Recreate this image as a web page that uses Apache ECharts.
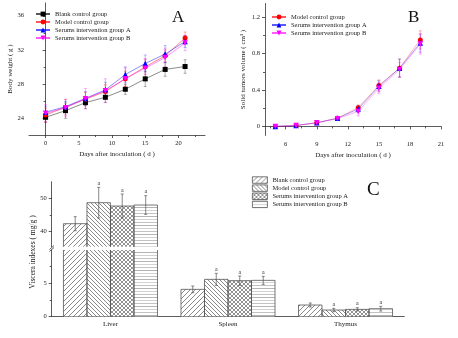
<!DOCTYPE html>
<html>
<head>
<meta charset="utf-8">
<script src="https://cdn.jsdelivr.net/npm/echarts@6/dist/echarts.min.js"></script>
<style>
html,body{margin:0;padding:0;background:#fff;}
#chart{width:458px;height:338px;}
</style>
</head>
<body>
<div id="chart"></div>
<script>
// ---------- data ----------
const groupNames = ['Blank control group', 'Model control group', 'Serums intervention group A', 'Serums intervention group B'];

// A: body weight (g) vs days after inoculation
const daysA = [0, 3, 6, 9, 12, 15, 18, 21];
const weightBlank = [24.08, 24.86, 25.8, 26.43, 27.37, 28.59, 29.7, 30.04];
const weightModel = [24.35, 25.26, 26.2, 27.1, 28.6, 30.0, 31.3, 33.4];
const weightGroupA = [24.67, 25.33, 26.3, 27.3, 29.1, 30.4, 31.5, 32.98];
const weightGroupB = [24.55, 25.2, 26.27, 27.2, 28.6, 29.85, 31.1, 32.8];
const weightBlankSd = [0.6, 0.9, 0.7, 0.6, 0.6, 0.9, 0.8, 0.8];
const weightModelSd = [0.8, 0.9, 0.8, 0.8, 0.9, 0.9, 0.7, 0.7];
const weightGroupASd = [0.7, 0.6, 0.8, 0.9, 0.9, 1.0, 1.0, 0.7];
const weightGroupBSd = [1.0, 1.0, 1.2, 1.4, 1.3, 1.1, 1.1, 0.9];

// B: solid tumour volume (cm3)
const daysB = [5, 7, 9, 11, 13, 15, 17, 19];
const volumeModel = [0.0, 0.01, 0.04, 0.09, 0.205, 0.45, 0.64, 0.95];
const volumeGroupA = [0.0, 0.01, 0.04, 0.09, 0.19, 0.44, 0.64, 0.915];
const volumeGroupB = [0.0, 0.01, 0.04, 0.085, 0.165, 0.42, 0.625, 0.905];
const volumeModelSd = [0.01, 0.01, 0.01, 0.02, 0.03, 0.06, 0.1, 0.1];
const volumeGroupASd = [0.01, 0.01, 0.01, 0.02, 0.04, 0.06, 0.1, 0.1];
const volumeGroupBSd = [0.01, 0.01, 0.01, 0.02, 0.05, 0.06, 0.08, 0.11];

// C: viscera indexes (mg/g)
const organs = ['Liver', 'Spleen', 'Thymus'];
const visceraBlank = [42.4, 4.1, 1.75];
const visceraModel = [48.7, 5.6, 1.0];
const visceraGroupA = [47.7, 5.4, 1.1];
const visceraGroupB = [48.0, 5.45, 1.2];
const visceraBlankSd = [2.1, 0.5, 0.3];
const visceraModelSd = [4.6, 0.9, 0.25];
const visceraGroupASd = [3.6, 0.7, 0.25];
const visceraGroupBSd = [2.8, 0.6, 0.35];
const visceraMarks = [['', '', ''], ['a', 'a', 'a'], ['a', 'a', 'a'], ['a', 'a', 'a']];

// tick values
const ticksAx = [0, 5, 10, 15, 20];
const minorAx = [2.5, 7.5, 12.5, 17.5, 22.5];
const ticksAy = [24, 28, 32, 36];
const minorAy = [26, 30, 34];
const ticksBx = [6, 9, 12, 15, 18, 21];
const minorBx = [4.5, 7.5, 10.5, 13.5, 16.5, 19.5];
const ticksBy = [0, 0.4, 0.8, 1.2];
const minorBy = [0.2, 0.6, 1.0];
const ticksCupper = [40, 50];
const minorCupper = [45];
const ticksClower = [0, 5];
const minorClower = [2.5, 7.5];

// ---------- styling helpers ----------
const FONT = 'Liberation Serif';
const lineColors = ['#000000', '#ff0000', '#0000ff', '#ff00ff'];
const errColors = ['rgba(0,0,0,0.45)', 'rgba(255,0,0,0.45)', 'rgba(0,0,255,0.4)', 'rgba(255,0,255,0.45)'];
const symbols = ['rect', 'circle', 'triangle', 'path://M0,0 L10,0 L5,9 Z'];
const symbolSizes = [5, 5, 5.5, 5.5];
const BAR_FRACTION = 0.2;   // bar width as a share of the category band

function tile(w, h, draw) {
  const c = document.createElement('canvas');
  c.width = w; c.height = h;
  const g = c.getContext('2d');
  g.fillStyle = '#ffffff';
  g.fillRect(0, 0, w, h);
  draw(g, w, h);
  return c;
}
function seg(g, x1, y1, x2, y2) { g.beginPath(); g.moveTo(x1, y1); g.lineTo(x2, y2); g.stroke(); }

const hatchSlash = tile(5, 5, g => {
  g.strokeStyle = '#8a8a8a'; g.lineWidth = 1;
  seg(g, 0, 5, 5, 0); seg(g, -1, 1, 1, -1); seg(g, 4, 6, 6, 4);
});
const hatchBack = tile(4, 4, g => {
  g.strokeStyle = '#7a7a7a'; g.lineWidth = 0.9;
  seg(g, 0, 0, 4, 4); seg(g, -1, 3, 1, 5); seg(g, 3, -1, 5, 1);
});
const hatchCross = tile(4, 4, g => {
  g.strokeStyle = '#777777'; g.lineWidth = 0.8;
  seg(g, 0, 0, 4, 4); seg(g, -1, 3, 1, 5); seg(g, 3, -1, 5, 1);
  seg(g, 0, 4, 4, 0); seg(g, -1, 1, 1, -1); seg(g, 3, 5, 5, 3);
});
const hatchHoriz = tile(4, 9, g => {
  g.lineWidth = 1;
  g.strokeStyle = '#b4b4b4'; seg(g, 0, 0.5, 4, 0.5);
  g.strokeStyle = '#d2d2d2'; seg(g, 0, 3.5, 4, 3.5);
  g.strokeStyle = '#c2c2c2'; seg(g, 0, 6.5, 4, 6.5);
});
const barFills = [hatchSlash, hatchBack, hatchCross, hatchHoriz].map(c => ({ image: c, repeat: 'repeat' }));

const axisLineStyle = { color: '#333', width: 0.8 };
const labelStyle = { fontFamily: FONT, fontSize: 6.5, color: '#222' };
const nameStyle = { fontFamily: FONT, fontSize: 7, color: '#222' };

function valueAxis(gridIndex, min, max, ticks, extra) {
  return Object.assign({
    type: 'value', gridIndex, min, max, splitLine: { show: false },
    axisLine: { show: true, lineStyle: axisLineStyle },
    axisTick: { show: true, customValues: ticks, length: 3, lineStyle: axisLineStyle },
    axisLabel: Object.assign({ customValues: ticks, margin: 5 }, labelStyle)
  }, extra || {});
}
function minorAxis(gridIndex, min, max, ticks, position) {
  return {
    type: 'value', gridIndex, min, max, position, splitLine: { show: false },
    axisLine: { show: false }, axisLabel: { show: false },
    axisTick: { show: true, customValues: ticks, length: 2, lineStyle: axisLineStyle }
  };
}

function errorRenderer(color, cap) {
  return function (params, api) {
    const x = api.value(0), y = api.value(1), e = api.value(2);
    const hi = api.coord([x, y + e]);
    const lo = api.coord([x, y - e]);
    const st = { stroke: color, lineWidth: 0.7 };
    return {
      type: 'group', children: [
        { type: 'line', shape: { x1: hi[0], y1: hi[1], x2: lo[0], y2: lo[1] }, style: st },
        { type: 'line', shape: { x1: hi[0] - cap, y1: hi[1], x2: hi[0] + cap, y2: hi[1] }, style: st },
        { type: 'line', shape: { x1: lo[0] - cap, y1: lo[1], x2: lo[0] + cap, y2: lo[1] }, style: st }
      ]
    };
  };
}

const series = [];

// A: lines with error bars
const weights = [weightBlank, weightModel, weightGroupA, weightGroupB];
const weightSds = [weightBlankSd, weightModelSd, weightGroupASd, weightGroupBSd];
weights.forEach((vals, g) => {
  series.push({
    type: 'custom', name: 'errA' + g, xAxisIndex: 0, yAxisIndex: 0, z: 1,
    renderItem: errorRenderer(errColors[g], 1.5),
    data: daysA.map((d, i) => [d, vals[i], weightSds[g][i]])
  });
});
weights.forEach((vals, g) => {
  series.push({
    type: 'line', name: groupNames[g], xAxisIndex: 0, yAxisIndex: 0, z: 2 + g,
    symbol: symbols[g], symbolSize: symbolSizes[g],
    itemStyle: { color: lineColors[g] },
    lineStyle: { color: lineColors[g], width: 0.7, opacity: 0.65 },
    data: daysA.map((d, i) => [d, vals[i]])
  });
});

// B: lines with error bars (model and intervention groups)
const volumes = [volumeModel, volumeGroupA, volumeGroupB];
const volumeSds = [volumeModelSd, volumeGroupASd, volumeGroupBSd];
volumes.forEach((vals, k) => {
  series.push({
    type: 'custom', name: 'errB' + k, xAxisIndex: 2, yAxisIndex: 2, z: 1,
    renderItem: errorRenderer(errColors[k + 1], 1.5),
    data: daysB.map((d, i) => [d, vals[i], volumeSds[k][i]])
  });
});
volumes.forEach((vals, k) => {
  const g = k + 1;
  series.push({
    type: 'line', name: groupNames[g], xAxisIndex: 2, yAxisIndex: 2, z: 2 + g,
    symbol: symbols[g], symbolSize: symbolSizes[g],
    itemStyle: { color: lineColors[g] },
    lineStyle: { color: lineColors[g], width: 0.7, opacity: 0.45 },
    data: daysB.map((d, i) => [d, vals[i]])
  });
});

// C: bars on a broken value axis (upper and lower segments)
const upperMin = 35.5;
const viscera = [visceraBlank, visceraModel, visceraGroupA, visceraGroupB];
const visceraSds = [visceraBlankSd, visceraModelSd, visceraGroupASd, visceraGroupBSd];
const cNames = groupNames.map(n => 'C:' + n);
const cSegments = [
  { xi: 5, yi: 5, pick: v => v },                           // lower segment: every bar, cut at the top
  { xi: 4, yi: 4, pick: v => (v > upperMin ? v : '-') }     // upper segment: only bars reaching it
];
cSegments.forEach(s => {
  viscera.forEach((vals, g) => {
    series.push({
      type: 'bar', name: cNames[g], xAxisIndex: s.xi, yAxisIndex: s.yi,
      barWidth: (BAR_FRACTION * 100) + '%', barGap: '0%', clip: true,
      itemStyle: { color: barFills[g], borderWidth: 0 },
      data: vals.map(s.pick)
    });
  });
});

// bar outlines, clipped to their grid so the axis break stays open
function barOutlineRenderer(params, api) {
  const c = api.value(0), v = api.value(1), g = api.value(2);
  const band = api.size([1, 0])[0];
  const w = band * BAR_FRACTION;
  const top = api.coord([c, v]);
  const base = api.coord([c, 0]);
  const x = top[0] + (g - 2) * w;
  const cs = params.coordSys;
  return {
    type: 'rect',
    shape: { x: x, y: top[1], width: w, height: base[1] - top[1] },
    style: { fill: null, stroke: '#555', lineWidth: 0.8 },
    clipPath: { type: 'rect', shape: { x: cs.x, y: cs.y, width: cs.width, height: cs.height } }
  };
}
cSegments.forEach(s => {
  const data = [];
  viscera.forEach((vals, g) => vals.forEach((v, c) => {
    if (s.pick(v) !== '-') data.push([c, v, g]);
  }));
  series.push({ type: 'custom', name: 'outline' + s.xi, xAxisIndex: s.xi, yAxisIndex: s.yi, z: 4,
    renderItem: barOutlineRenderer, data });
});

function visceraErrors(test) {
  const out = [];
  viscera.forEach((vals, g) => vals.forEach((v, c) => {
    if (test(v)) out.push([c, v, visceraSds[g][c], g]);
  }));
  return out;
}
function barErrorRenderer(params, api) {
  const c = api.value(0), v = api.value(1), e = api.value(2), g = api.value(3);
  const band = api.size([1, 0])[0];
  const dx = (g - 1.5) * band * BAR_FRACTION;
  const hi = api.coord([c, v + e]);
  const lo = api.coord([c, v - e]);
  const x = hi[0] + dx;
  const st = { stroke: '#555', lineWidth: 0.7 };
  const children = [
    { type: 'line', shape: { x1: x, y1: hi[1], x2: x, y2: lo[1] }, style: st },
    { type: 'line', shape: { x1: x - 1.5, y1: hi[1], x2: x + 1.5, y2: hi[1] }, style: st },
    { type: 'line', shape: { x1: x - 1.5, y1: lo[1], x2: x + 1.5, y2: lo[1] }, style: st }
  ];
  const mark = visceraMarks[g][c];
  if (mark) {
    children.push({
      type: 'text',
      style: { text: mark, x: x, y: hi[1] - 1, align: 'center', verticalAlign: 'bottom',
               font: '6px "Liberation Serif"', fill: '#333' }
    });
  }
  return { type: 'group', children };
}
series.push({ type: 'custom', name: 'errCu', xAxisIndex: 4, yAxisIndex: 4, z: 5,
  renderItem: barErrorRenderer, data: visceraErrors(v => v > upperMin) });
series.push({ type: 'custom', name: 'errCl', xAxisIndex: 5, yAxisIndex: 5, z: 5,
  renderItem: barErrorRenderer, data: visceraErrors(v => v <= upperMin) });

const legendText = { fontFamily: FONT, fontSize: 6.5, color: '#222', lineHeight: 8 };

const option = {
  animation: false,
  backgroundColor: '#ffffff',
  grid: [
    { left: 29, top: 3, width: 176, height: 132 },
    { left: 265, top: 3.5, width: 176, height: 132 },
    { left: 51.7, top: 181.7, width: 352.6, height: 65 },
    { left: 51.7, top: 250, width: 352.6, height: 66.7 }
  ],
  xAxis: [
    valueAxis(0, -2.5, 24, ticksAx, { position: 'bottom', name: 'Days after inoculation ( d )',
      nameLocation: 'middle', nameGap: 15.5, nameTextStyle: nameStyle }),
    minorAxis(0, -2.5, 24, minorAx, 'bottom'),
    valueAxis(1, 4, 21, ticksBx, { position: 'bottom', name: 'Days after inoculation ( d )',
      nameLocation: 'middle', nameGap: 16, nameTextStyle: nameStyle }),
    minorAxis(1, 4, 21, minorBx, 'bottom'),
    { type: 'category', gridIndex: 2, data: organs, show: false },
    { type: 'category', gridIndex: 3, data: organs, position: 'bottom',
      axisLine: { lineStyle: axisLineStyle },
      axisTick: { length: 3, lineStyle: axisLineStyle },
      axisLabel: Object.assign({ margin: 4 }, labelStyle, { fontSize: 7 }) },
    { type: 'category', gridIndex: 3, data: organs, position: 'bottom',
      axisLine: { show: false }, axisLabel: { show: false },
      axisTick: { alignWithLabel: true, length: 3, lineStyle: axisLineStyle } }
  ],
  yAxis: [
    valueAxis(0, 22, 37.5, ticksAy, { position: 'left', name: 'Body weight ( g )',
      nameLocation: 'middle', nameGap: 15.5, nameTextStyle: nameStyle }),
    minorAxis(0, 22, 37.5, minorAy, 'left'),
    valueAxis(1, -0.1, 1.35, ticksBy, { position: 'left', name: 'Solid tumors volume ( cm\u00b3 )',
      nameLocation: 'middle', nameGap: 18.5, nameTextStyle: nameStyle }),
    minorAxis(1, -0.1, 1.35, minorBy, 'left'),
    valueAxis(2, upperMin, 55, ticksCupper, { position: 'left' }),
    valueAxis(3, 0, 10, ticksClower, { position: 'left' }),
    minorAxis(2, upperMin, 55, minorCupper, 'left'),
    minorAxis(3, 0, 10, minorClower, 'left')
  ],
  legend: [
    { data: groupNames, orient: 'vertical', left: 35, top: 10, padding: 0, itemWidth: 14, itemHeight: 6,
      itemGap: 0, textStyle: legendText },
    { data: groupNames.slice(1), orient: 'vertical', left: 271, top: 13, padding: 0, itemWidth: 14, itemHeight: 6,
      itemGap: 0, textStyle: legendText },
    { data: cNames, orient: 'vertical', left: 252, top: 176, padding: 0, itemWidth: 15, itemHeight: 6.5,
      itemGap: 0, icon: 'rect', formatter: n => n.slice(2),
      itemStyle: { borderColor: '#555', borderWidth: 0.8 },
      textStyle: Object.assign({}, legendText, { lineHeight: 8.1 }) }
  ],
  graphic: [
    { type: 'text', left: 172, top: 9, style: { text: 'A', font: '17px "Liberation Serif"', fill: '#111' } },
    { type: 'text', left: 408, top: 9, style: { text: 'B', font: '17px "Liberation Serif"', fill: '#111' } },
    { type: 'text', left: 367, top: 181, style: { text: 'C', font: '19px "Liberation Serif"', fill: '#111' } },
    { type: 'text', x: 33, y: 252, rotation: Math.PI / 2,
      style: { text: 'Viscera indexes ( mg/g )', font: '7.5px "Liberation Serif"', fill: '#222',
               align: 'center', verticalAlign: 'middle' } },
    // break marks on the C value axis
    { type: 'line', shape: { x1: 49.5, y1: 249.5, x2: 54, y2: 245.5 }, style: { stroke: '#333', lineWidth: 0.8 } },
    { type: 'line', shape: { x1: 49.5, y1: 251.5, x2: 54, y2: 247.5 }, style: { stroke: '#333', lineWidth: 0.8 } }
  ],
  series
};

const chart = echarts.init(document.getElementById('chart'), null, { renderer: 'canvas' });
chart.setOption(option);
</script>
</body>
</html>
